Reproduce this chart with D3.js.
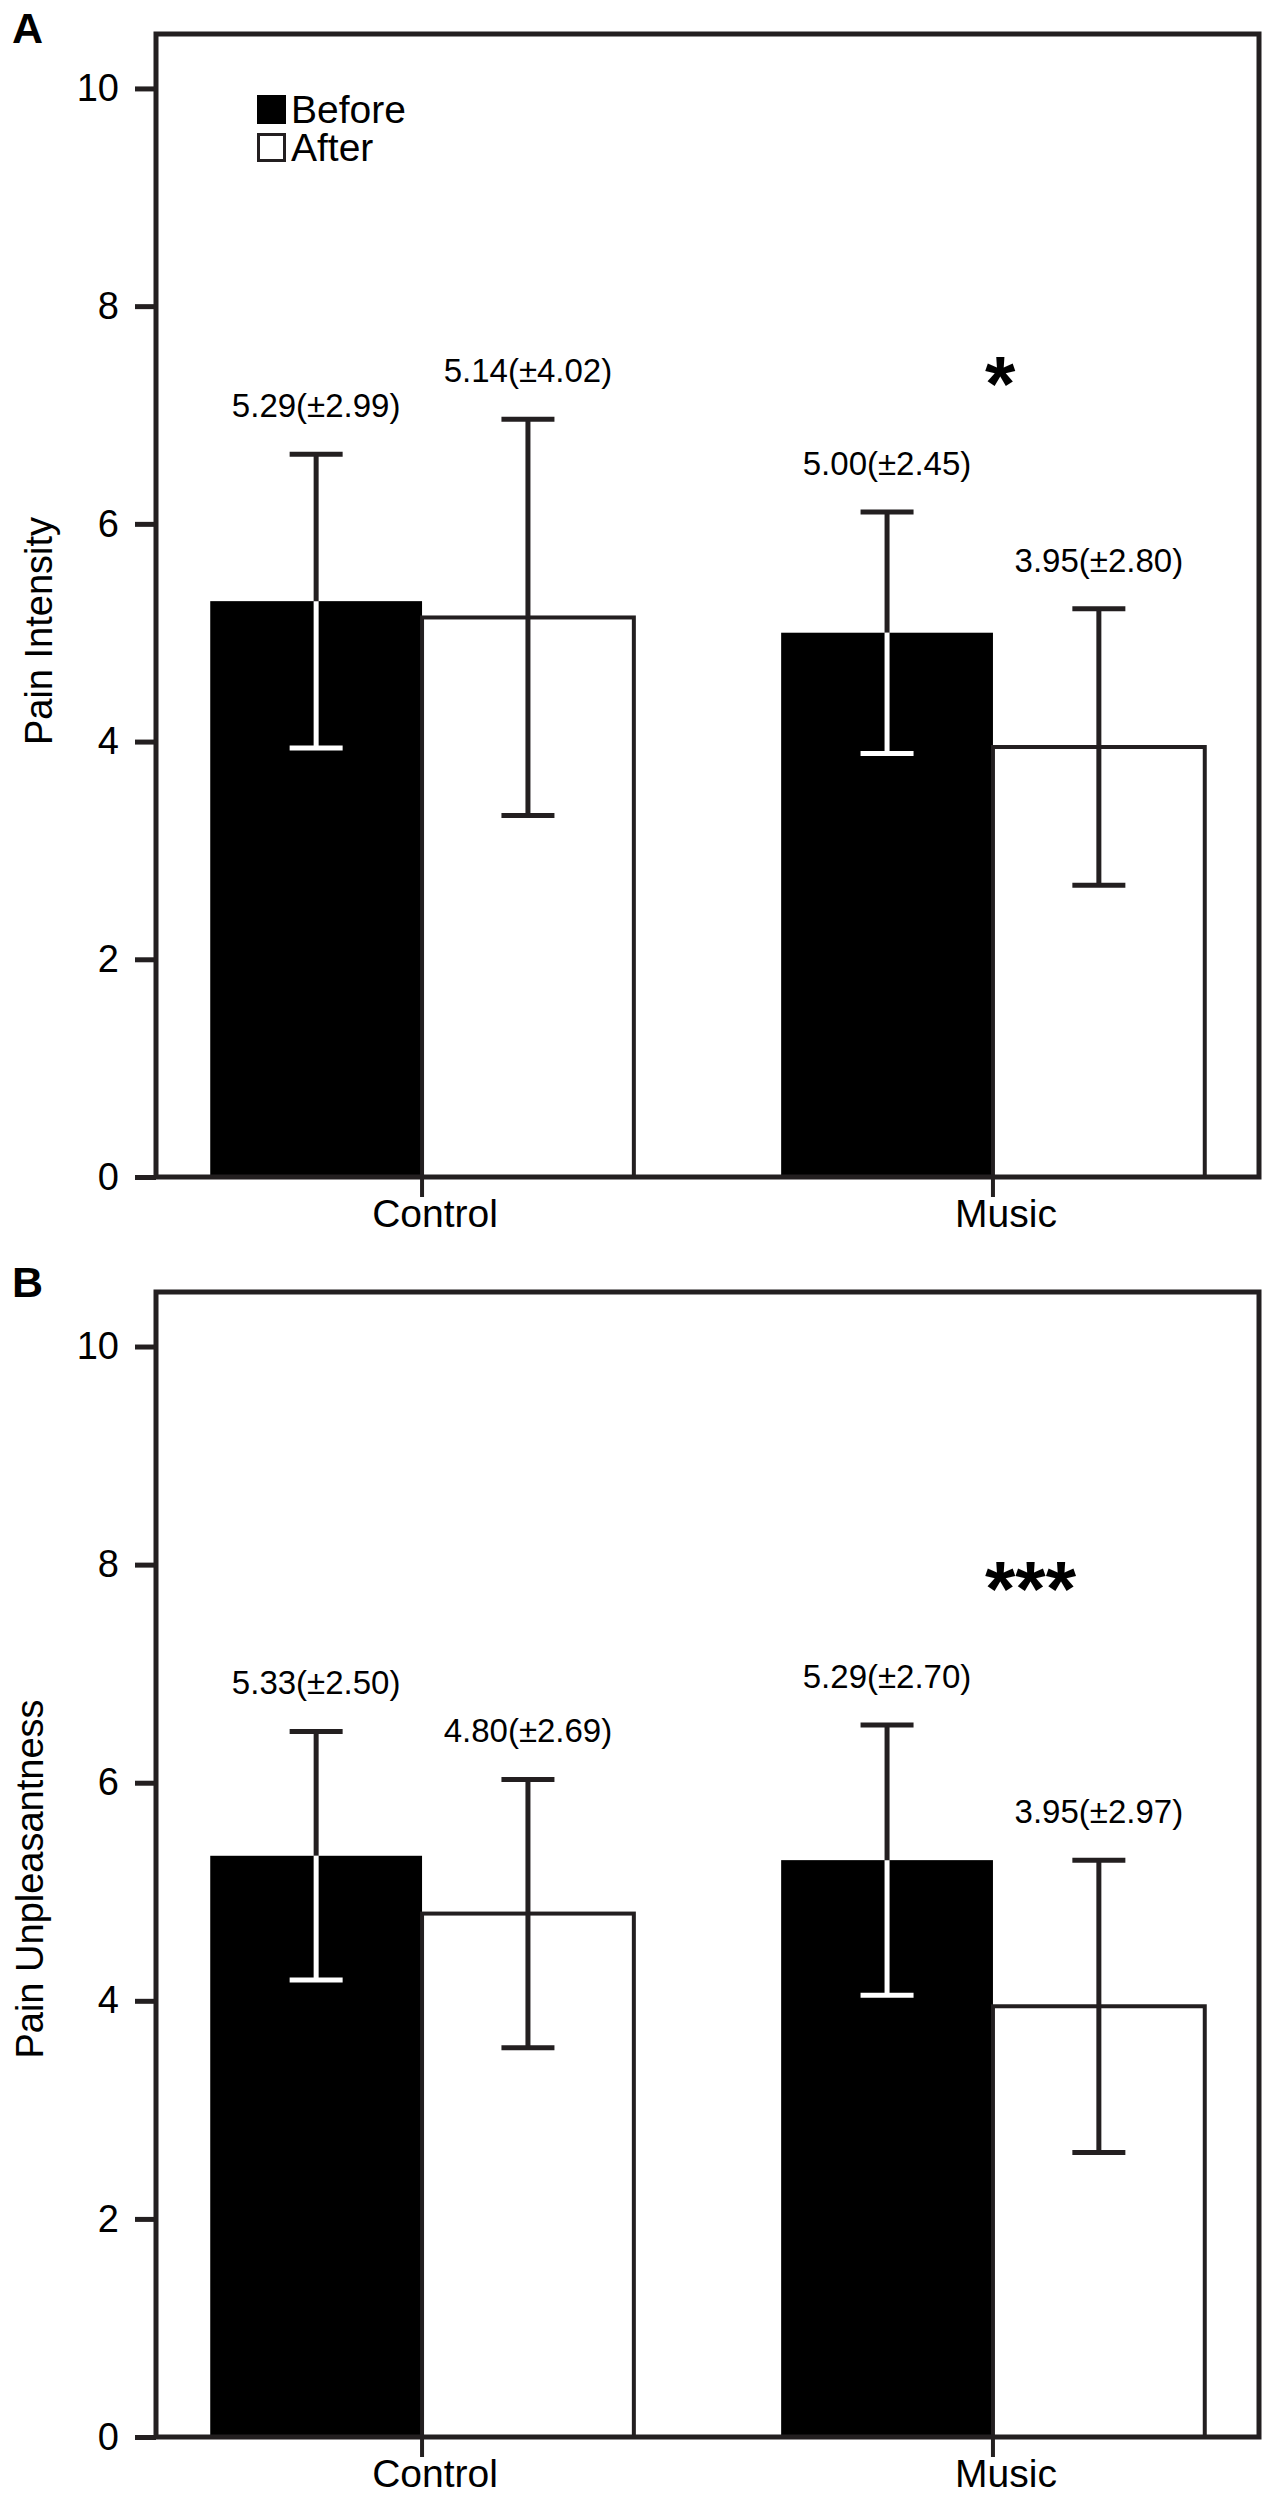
<!DOCTYPE html>
<html>
<head>
<meta charset="utf-8">
<script src="https://cdn.jsdelivr.net/npm/d3@7"></script>
<style>
  body { margin: 0; background: #fff; }
  text { font-family: "Liberation Sans", Arial, sans-serif; }
</style>
</head>
<body>
<svg id="chart" width="1274" height="2500"></svg>
<script>
// data
const groups = ["Control", "Music"];
const phases = ["Before", "After"];
const yTicks = [0, 2, 4, 6, 8, 10];

// A: pain intensity
const intensityBefore = [5.29, 5.00];
const intensityAfter = [5.14, 3.95];
const intensityBeforeErr = [1.35, 1.11];   // drawn whisker length
const intensityAfterErr = [1.82, 1.27];
const intensityBeforeSD = [2.99, 2.45];    // value printed in brackets
const intensityAfterSD = [4.02, 2.80];

// B: pain unpleasantness
const unpleasBefore = [5.33, 5.29];
const unpleasAfter = [4.80, 3.95];
const unpleasBeforeErr = [1.14, 1.24];
const unpleasAfterErr = [1.23, 1.34];
const unpleasBeforeSD = [2.50, 2.70];
const unpleasAfterSD = [2.69, 2.97];

// significance marks over the Music group
const sigMarks = ["*", "***"];
const sigLevel = [7.04, 7.53];

const ink = "#231f20";
const svg = d3.select("#chart");
const left = 156, right = 1259;

const x0 = d3.scaleBand()
  .domain(groups)
  .range([left, right])
  .paddingInner(0.258)
  .paddingOuter(0.095);
const x1 = d3.scaleBand()
  .domain(phases)
  .range([0, x0.bandwidth()]);

const panels = [
  { letter: "A", letterY: 43, top: 34, zero: 1177, title: "Pain Intensity", titleX: 52, titleY: 631,
    before: intensityBefore, after: intensityAfter, beforeErr: intensityBeforeErr, afterErr: intensityAfterErr,
    beforeSD: intensityBeforeSD, afterSD: intensityAfterSD, legend: true },
  { letter: "B", letterY: 1297, top: 1292, zero: 2437, title: "Pain Unpleasantness", titleX: 43, titleY: 1879,
    before: unpleasBefore, after: unpleasAfter, beforeErr: unpleasBeforeErr, afterErr: unpleasAfterErr,
    beforeSD: unpleasBeforeSD, afterSD: unpleasAfterSD, legend: false }
];

panels.forEach(function(p, pi) {
  const y = d3.scaleLinear().domain([0, 10.5]).range([p.zero, p.top]);
  const g = svg.append("g");

  // rows: one per bar
  const rows = [];
  groups.forEach(function(grp, i) {
    rows.push({ group: grp, phase: "Before", mean: p.before[i], err: p.beforeErr[i], sd: p.beforeSD[i] });
    rows.push({ group: grp, phase: "After", mean: p.after[i], err: p.afterErr[i], sd: p.afterSD[i] });
  });

  // bars
  g.selectAll("rect.bar")
    .data(rows)
    .enter().append("rect")
    .attr("class", "bar")
    .attr("x", d => x0(d.group) + x1(d.phase))
    .attr("y", d => y(d.mean))
    .attr("width", x1.bandwidth())
    .attr("height", d => y(0) - y(d.mean))
    .attr("fill", d => d.phase == "Before" ? "#000" : "#fff")
    .attr("stroke", d => d.phase == "Before" ? "none" : ink)
    .attr("stroke-width", 4);

  // error bars: part inside black bar is white
  const cx = d => x0(d.group) + x1(d.phase) + x1.bandwidth() / 2;
  const low = d => d.phase == "Before" ? "#fff" : ink;
  const cap = 26.5;
  const eb = g.selectAll("g.err").data(rows).enter().append("g").attr("class", "err");
  eb.append("line")
    .attr("x1", cx).attr("x2", cx)
    .attr("y1", d => y(d.mean)).attr("y2", d => y(d.mean + d.err))
    .attr("stroke", ink).attr("stroke-width", 5);
  eb.append("line")
    .attr("x1", d => cx(d) - cap).attr("x2", d => cx(d) + cap)
    .attr("y1", d => y(d.mean + d.err)).attr("y2", d => y(d.mean + d.err))
    .attr("stroke", ink).attr("stroke-width", 5);
  eb.append("line")
    .attr("x1", cx).attr("x2", cx)
    .attr("y1", d => y(d.mean)).attr("y2", d => y(d.mean - d.err))
    .attr("stroke", low).attr("stroke-width", 5);
  eb.append("line")
    .attr("x1", d => cx(d) - cap).attr("x2", d => cx(d) + cap)
    .attr("y1", d => y(d.mean - d.err)).attr("y2", d => y(d.mean - d.err))
    .attr("stroke", low).attr("stroke-width", 5);

  // mean(±SD) labels
  eb.append("text")
    .attr("x", cx)
    .attr("y", d => y(d.mean + d.err) - 37)
    .attr("text-anchor", "middle")
    .attr("font-size", 33)
    .attr("fill", "#000")
    .text(d => d.mean.toFixed(2) + "(\u00b1" + d.sd.toFixed(2) + ")");

  // significance
  g.append("text")
    .attr("x", x0("Music") + x0.bandwidth() / 2 - 8)
    .attr("y", y(sigLevel[pi]))
    .attr("font-size", 78)
    .attr("font-weight", "bold")
    .attr("fill", "#000")
    .text(sigMarks[pi]);

  // frame
  g.append("rect")
    .attr("x", left).attr("y", p.top)
    .attr("width", right - left).attr("height", p.zero - p.top)
    .attr("fill", "none").attr("stroke", ink).attr("stroke-width", 5);

  // y axis
  const ya = g.append("g")
    .attr("transform", "translate(" + left + ",0)")
    .call(d3.axisLeft(y).tickValues(yTicks).tickSize(21).tickPadding(16));
  ya.select(".domain").remove();
  ya.selectAll(".tick line").attr("stroke", ink).attr("stroke-width", 5);
  ya.selectAll(".tick text").attr("font-size", 38).attr("fill", "#000").style("font-family", "Liberation Sans, Arial, sans-serif");

  // x axis
  const xa = g.append("g")
    .attr("transform", "translate(0," + p.zero + ")")
    .call(d3.axisBottom(x0).tickSize(20));
  xa.select(".domain").remove();
  xa.selectAll(".tick line").attr("stroke", ink).attr("stroke-width", 4);
  xa.selectAll(".tick text")
    .attr("y", 50).attr("dy", 0).attr("dx", 13)
    .attr("font-size", 39).attr("fill", "#000")
    .style("font-family", "Liberation Sans, Arial, sans-serif");

  // axis title
  g.append("text")
    .attr("transform", "translate(" + p.titleX + "," + p.titleY + ") rotate(-90)")
    .attr("text-anchor", "middle")
    .attr("font-size", 38)
    .attr("fill", "#000")
    .text(p.title);

  // panel letter
  g.append("text")
    .attr("x", 12).attr("y", p.letterY)
    .attr("font-size", 43)
    .attr("font-weight", "bold")
    .attr("fill", "#000")
    .text(p.letter);

  // legend
  if (p.legend) {
    const lg = g.append("g").attr("transform", "translate(257,95)");
    lg.selectAll("rect")
      .data(phases)
      .enter().append("rect")
      .attr("x", (d, i) => i == 0 ? 0 : 1.5)
      .attr("y", (d, i) => i * 38 + (i == 0 ? 0 : 1.5))
      .attr("width", (d, i) => i == 0 ? 29 : 26)
      .attr("height", (d, i) => i == 0 ? 29 : 26)
      .attr("fill", d => d == "Before" ? "#000" : "#fff")
      .attr("stroke", d => d == "Before" ? "none" : ink)
      .attr("stroke-width", 3);
    lg.selectAll("text")
      .data(phases)
      .enter().append("text")
      .attr("x", 34)
      .attr("y", (d, i) => 28 + i * 38)
      .attr("font-size", 39)
      .attr("fill", "#000")
      .text(d => d);
  }
});
</script>
</body>
</html>
